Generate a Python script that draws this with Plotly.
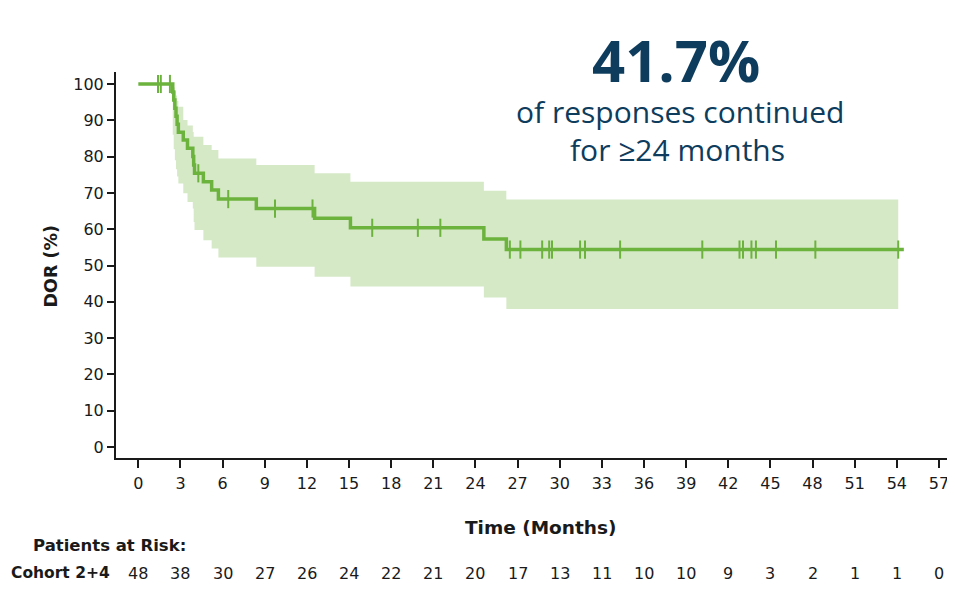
import numpy as np
import plotly.graph_objects as go

# ---------------- data ----------------
event_time = [2.45, 2.52, 2.60, 2.68, 2.76, 2.85, 3.20, 3.50, 3.88, 3.94, 4.00,
              4.63, 5.22, 5.70, 8.40, 12.55, 15.10, 24.60, 26.20]
dor_est = [97.8, 95.6, 93.3, 91.1, 88.9, 86.7, 84.6, 82.3, 80.0, 77.7, 75.4,
           73.1, 70.8, 68.3, 65.7, 63.0, 60.4, 57.3, 54.4]
ci_upper = [99.6, 99.0, 98.0, 96.8, 95.3, 93.7, 90.1, 88.6, 86.8, 85.5, 85.5,
            83.2, 81.8, 79.5, 77.7, 75.4, 73.1, 70.6, 68.2]
ci_lower = [86.0, 82.0, 79.0, 76.5, 74.5, 72.6, 69.9, 67.5, 65.7, 62.0, 59.8,
            57.0, 54.7, 52.2, 49.7, 46.9, 44.2, 41.2, 38.0]
censor_time = [1.4, 1.6, 2.25, 4.27, 6.4, 9.73, 12.4, 16.65, 19.9, 21.5,
               26.45, 27.2, 28.75, 29.25, 29.45, 31.45, 31.8, 34.3, 40.15,
               42.8, 43.05, 43.65, 43.97, 45.4, 48.2, 54.1]
last_followup = 54.5
ci_end = 54.1

x_ticks = list(range(0, 58, 3))
y_ticks = list(range(0, 101, 10))
at_risk = [48, 38, 30, 27, 26, 24, 22, 21, 20, 17, 13, 11, 10, 10, 9, 3, 2, 1, 1, 0]

headline = "41.7%"
sub1 = "of responses continued"
sub2 = "for ≥24 months"

# ---------------- styling ----------------
GREEN = "rgb(108,179,62)"
BAND = "rgb(214,233,199)"
NAVY = "rgb(14,60,92)"
INK = "#1a1a1a"
FONT = "DejaVu Sans"

OFF = 8                      # default body margin of the html page
W, H = 955 - OFF, 589 - OFF
L, T = 116 - OFF, 72 - OFF
R = W - (953 - OFF)
B = H - (458 - OFF)
PW, PH = W - L - R, H - T - B


def px2x(px):  # page pixel -> paper x
    return (px - OFF - L) / PW


def py2y(py):  # page pixel -> paper y
    return (H - B - (py - OFF)) / PH


step_vals = [100.0] + dor_est
cens_y = [step_vals[np.searchsorted(event_time, t, side="right")] for t in censor_time]

fig = go.Figure()

# confidence band
fig.add_trace(go.Scatter(
    x=event_time + [ci_end], y=ci_lower + [ci_lower[-1]],
    mode="lines", line=dict(width=0, shape="hv", color=BAND),
    hoverinfo="skip", showlegend=False))
fig.add_trace(go.Scatter(
    x=event_time + [ci_end], y=ci_upper + [ci_upper[-1]],
    mode="lines", line=dict(width=0, shape="hv", color=BAND),
    fill="tonexty", fillcolor=BAND, hoverinfo="skip", showlegend=False))

# KM curve
fig.add_trace(go.Scatter(
    x=[0] + event_time + [last_followup], y=step_vals + [dor_est[-1]],
    mode="lines", line=dict(width=3.5, shape="hv", color=GREEN),
    showlegend=False))

# censor marks
fig.add_trace(go.Scatter(
    x=censor_time, y=cens_y, mode="markers",
    marker=dict(symbol="line-ns", size=13, line=dict(width=2, color=GREEN), color=GREEN),
    showlegend=False))

ann = []
ann.append(dict(text=f"<b>{headline}</b>", x=px2x(676), y=py2y(60), xref="paper", yref="paper",
                showarrow=False, xanchor="center", yanchor="middle",
                font=dict(family="Open Sans", size=58, color=NAVY)))
ann.append(dict(text=sub1, x=px2x(680), y=py2y(111), xref="paper", yref="paper",
                showarrow=False, xanchor="center", yanchor="middle",
                font=dict(family="Open Sans", size=30, color=NAVY)))
ann.append(dict(text=sub2, x=px2x(677), y=py2y(149), xref="paper", yref="paper",
                showarrow=False, xanchor="center", yanchor="middle",
                font=dict(family="Open Sans", size=30, color=NAVY)))
ann.append(dict(text="<b>DOR (%)</b>", x=px2x(50.5), y=py2y(266), xref="paper", yref="paper",
                showarrow=False, xanchor="center", yanchor="middle", textangle=-90,
                font=dict(family=FONT, size=17.5, color=INK)))
ann.append(dict(text="<b>Time (Months)</b>", x=px2x(540), y=py2y(527), xref="paper", yref="paper",
                showarrow=False, xanchor="center", yanchor="middle",
                font=dict(family=FONT, size=18.5, color=INK)))
ann.append(dict(text="<b>Patients at Risk:</b>", x=px2x(31), y=py2y(545), xref="paper", yref="paper",
                showarrow=False, xanchor="left", yanchor="middle",
                font=dict(family=FONT, size=16.5, color=INK)))
ann.append(dict(text="<b>Cohort 2+4</b>", x=px2x(8.5), y=py2y(573), xref="paper", yref="paper",
                showarrow=False, xanchor="left", yanchor="middle",
                font=dict(family=FONT, size=15.5, color=INK)))
for t, n in zip(x_ticks, at_risk):
    ann.append(dict(text=str(n), x=t, y=py2y(573), xref="x", yref="paper",
                    showarrow=False, xanchor="center", yanchor="middle",
                    font=dict(family=FONT, size=16, color=INK)))

fig.update_layout(
    width=W, height=H, margin=dict(l=L, r=R, t=T, b=B, autoexpand=False),
    paper_bgcolor="white", plot_bgcolor="white",
    font=dict(family=FONT, size=16, color=INK),
    annotations=ann,
)
fig.update_xaxes(range=[-1.59, 58.0], tickvals=x_ticks, ticks="outside", ticklen=8,
                 tickwidth=2, tickcolor=INK, showline=True, linewidth=2, linecolor=INK,
                 showgrid=False, zeroline=False, tickfont=dict(family=FONT, size=16, color=INK),
                 ticklabelstandoff=2)
fig.update_yaxes(range=[-3.0, 103.3], tickvals=y_ticks, ticks="outside", ticklen=7,
                 tickwidth=2, tickcolor=INK, showline=True, linewidth=2, linecolor=INK,
                 showgrid=False, zeroline=False, tickfont=dict(family=FONT, size=16, color=INK))

fig.write_html("out.html")
